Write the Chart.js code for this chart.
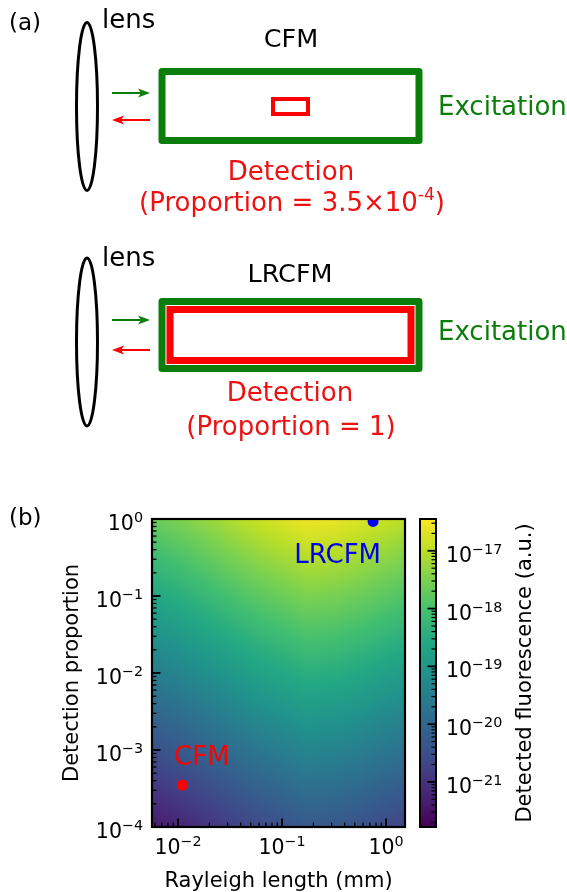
<!DOCTYPE html>
<html>
<head>
<meta charset="utf-8">
<script src="https://cdn.jsdelivr.net/npm/chart.js@4.4.1/dist/chart.umd.min.js"></script>
<style>
html, body { margin: 0; padding: 0; background: #fff; }
#wrap { position: relative; width: 567px; height: 892px; overflow: hidden; }
#fig { position: absolute; left: 0; top: 0; }
#sketch { position: absolute; left: 0; top: 0; pointer-events: none; font-family: 'DejaVu Sans', sans-serif; }
</style>
</head>
<body>
<div id="wrap">
<canvas id="fig" width="567" height="892"></canvas>
<svg id="sketch" width="567" height="892">
  <text x="9" y="30" font-size="23">(a)</text>
  <text x="9" y="525" font-size="23">(b)</text>

  <!-- CFM sketch -->
  <ellipse cx="87" cy="106.5" rx="10.5" ry="84" fill="none" stroke="#000" stroke-width="3"/>
  <text x="102" y="28" font-size="26">lens</text>
  <text x="291" y="47" font-size="25.5" text-anchor="middle">CFM</text>
  <rect x="162" y="71.5" width="257" height="69" fill="none" stroke="#0b7d0b" stroke-width="7" stroke-linejoin="round"/>
  <rect x="273" y="99" width="35" height="15" fill="none" stroke="#ff0000" stroke-width="4"/>
  <line x1="112" y1="93" x2="142" y2="93" stroke="#0b7d0b" stroke-width="2"/>
  <polygon points="150,93 138,88.5 141,93 138,97.5" fill="#0b7d0b"/>
  <line x1="120" y1="120" x2="150" y2="120" stroke="#ff0000" stroke-width="2"/>
  <polygon points="112,120 124,115.5 121,120 124,124.5" fill="#ff0000"/>
  <text x="438" y="115" font-size="26" fill="#0b7d0b">Excitation</text>
  <text x="291" y="180" font-size="26" fill="#ee1111" text-anchor="middle">Detection</text>
  <text x="292" y="211" font-size="26" fill="#ee1111" text-anchor="middle">(Proportion = 3.5×10<tspan dy="-11" font-size="17">-4</tspan><tspan dy="11">)</tspan></text>

  <!-- LRCFM sketch -->
  <ellipse cx="87" cy="342" rx="10.5" ry="84" fill="none" stroke="#000" stroke-width="3"/>
  <text x="102" y="266" font-size="26">lens</text>
  <text x="290" y="282" font-size="25.5" text-anchor="middle">LRCFM</text>
  <rect x="162" y="301.5" width="257" height="67" fill="none" stroke="#0b7d0b" stroke-width="7" stroke-linejoin="round"/>
  <rect x="170" y="309.5" width="241" height="51" fill="none" stroke="#ff0000" stroke-width="7"/>
  <line x1="112" y1="320" x2="142" y2="320" stroke="#0b7d0b" stroke-width="2"/>
  <polygon points="150,320 138,315.5 141,320 138,324.5" fill="#0b7d0b"/>
  <line x1="120" y1="350" x2="150" y2="350" stroke="#ff0000" stroke-width="2"/>
  <polygon points="112,350 124,345.5 121,350 124,354.5" fill="#ff0000"/>
  <text x="438" y="340" font-size="26" fill="#0b7d0b">Excitation</text>
  <text x="290" y="401" font-size="26" fill="#ee1111" text-anchor="middle">Detection</text>
  <text x="291" y="435" font-size="26" fill="#ee1111" text-anchor="middle">(Proportion = 1)</text>
</svg>
</div>
<script>
// Panel (b): detected fluorescence vs Rayleigh length and detection proportion.

// Grid of the heat map
const rayleighLength = [0.005623, 0.01, 0.0178, 0.0316, 0.0562, 0.1, 0.178, 0.316, 0.562, 1.0, 1.52];
const detectionProportion = [1, 0.1, 0.01, 0.001, 0.0001];
// log10 of detected fluorescence (a.u.), one row per detection proportion
const fluorescenceLog10 = [
    [-17.68, -17.52, -17.31, -17.10, -16.89, -16.73, -16.57, -16.62, -16.73, -16.89, -16.99],
    [-18.61, -18.45, -18.24, -18.03, -17.82, -17.66, -17.50, -17.55, -17.66, -17.82, -17.92],
    [-19.54, -19.38, -19.17, -18.96, -18.75, -18.59, -18.43, -18.48, -18.59, -18.75, -18.85],
    [-20.47, -20.31, -20.10, -19.89, -19.68, -19.52, -19.36, -19.41, -19.52, -19.68, -19.78],
    [-21.40, -21.24, -21.03, -20.82, -20.61, -20.45, -20.29, -20.34, -20.45, -20.61, -20.71]
];
const colorMin = Math.pow(10, -21.78);
const colorMax = Math.pow(10, -16.45);

// The two microscopes
const pointNames = ['CFM', 'LRCFM'];
const pointRayleigh = [0.011, 0.75];
const pointProportion = [3.5e-4, 0.93];
const labelRayleigh = [0.00916, 0.131];
const labelProportion = [6.4e-4, 0.268];

// Axis ticks
const xTickValues = [0.01, 0.1, 1];
const xTickExp = ['\u22122', '\u22121', '0'];
const yTickValues = [1, 0.1, 0.01, 0.001, 0.0001];
const yTickExp = ['0', '\u22121', '\u22122', '\u22123', '\u22124'];
const cbarTickValues = [1e-17, 1e-18, 1e-19, 1e-20, 1e-21];
const cbarTickExp = ['\u221217', '\u221218', '\u221219', '\u221220', '\u221221'];

const xTitle = 'Rayleigh length (mm)';
const yTitle = 'Detection proportion';
const cbarTitle = 'Detected fluorescence (a.u.)';

const markerColors = ['#ff0000', '#0000ff'];
const FONT = '"DejaVu Sans", sans-serif';
const TICK_PX = 20.5, SUP_PX = 14.3;

const viridis = [
    [68, 1, 84], [72, 36, 117], [65, 68, 135], [53, 95, 141], [42, 120, 142],
    [33, 145, 140], [34, 168, 132], [68, 191, 112], [122, 209, 81], [189, 223, 38], [253, 231, 37]
];

function viridisColor(t) {
    t = Math.max(0, Math.min(1, t));
    const f = t * (viridis.length - 1);
    const k = Math.min(viridis.length - 2, Math.floor(f));
    const r = f - k;
    const a = viridis[k], b = viridis[k + 1];
    return [a[0] + (b[0] - a[0]) * r, a[1] + (b[1] - a[1]) * r, a[2] + (b[2] - a[2]) * r];
}

// fractional position of v inside a monotonic grid
function gridPos(grid, v) {
    const n = grid.length;
    for (let k = 0; k < n - 1; k++) {
        const a = grid[k], b = grid[k + 1];
        if ((v - a) * (v - b) <= 0) return k + (v - a) / (b - a);
    }
    return Math.abs(v - grid[0]) < Math.abs(v - grid[n - 1]) ? 0 : n - 1;
}

function sampleGrid(fx, fy) {
    const cols = rayleighLength.length, rows = detectionProportion.length;
    const i0 = Math.min(cols - 2, Math.floor(fx)), j0 = Math.min(rows - 2, Math.floor(fy));
    const u = fx - i0, w = fy - j0;
    const g = fluorescenceLog10;
    return (g[j0][i0] * (1 - u) + g[j0][i0 + 1] * u) * (1 - w) +
           (g[j0 + 1][i0] * (1 - u) + g[j0 + 1][i0 + 1] * u) * w;
}

const heatmapPlugin = {
    id: 'heatmap',
    beforeDatasetsDraw(chart) {
        const { ctx, chartArea } = chart;
        const xs = chart.scales.x, ys = chart.scales.y, cs = chart.scales.c;
        const lx = rayleighLength.map(Math.log10);
        const ly = detectionProportion.map(Math.log10);
        const cMin = Math.log10(cs.min), cMax = Math.log10(cs.max);

        const w = Math.round(chartArea.right - chartArea.left);
        const h = Math.round(chartArea.bottom - chartArea.top);
        const off = document.createElement('canvas');
        off.width = w; off.height = h;
        const octx = off.getContext('2d');
        const img = octx.createImageData(w, h);
        for (let i = 0; i < w; i++) {
            const fx = gridPos(lx, Math.log10(xs.getValueForPixel(chartArea.left + i + 0.5)));
            for (let j = 0; j < h; j++) {
                const fy = gridPos(ly, Math.log10(ys.getValueForPixel(chartArea.top + j + 0.5)));
                const c = viridisColor((sampleGrid(fx, fy) - cMin) / (cMax - cMin));
                const p = (j * w + i) * 4;
                img.data[p] = c[0]; img.data[p + 1] = c[1]; img.data[p + 2] = c[2]; img.data[p + 3] = 255;
            }
        }
        octx.putImageData(img, 0, 0);
        ctx.drawImage(off, chartArea.left, chartArea.top);

        // colour bar
        const barLeft = 420, barWidth = 16;
        for (let y = Math.floor(cs.top); y < Math.ceil(cs.bottom); y++) {
            const v = Math.log10(cs.getValueForPixel(y + 0.5));
            const c = viridisColor((v - cMin) / (cMax - cMin));
            ctx.fillStyle = `rgb(${c[0] | 0},${c[1] | 0},${c[2] | 0})`;
            ctx.fillRect(barLeft, y, barWidth, 1);
        }
    }
};

function minorTicks(min, max) {
    const out = [];
    for (let e = Math.floor(Math.log10(min)); e <= Math.ceil(Math.log10(max)); e++) {
        for (let m = 2; m <= 9; m++) {
            const v = m * Math.pow(10, e);
            if (v > min && v < max) out.push(v);
        }
    }
    return out;
}

function drawPower(ctx, x, baseline, exp, align) {
    ctx.font = TICK_PX + 'px ' + FONT;
    const wb = ctx.measureText('10').width;
    ctx.font = SUP_PX + 'px ' + FONT;
    const ws = ctx.measureText(exp).width;
    const total = wb + ws;
    let start = x;
    if (align === 'right') start = x - total;
    if (align === 'center') start = x - total / 2;
    ctx.textAlign = 'left';
    ctx.textBaseline = 'alphabetic';
    ctx.font = TICK_PX + 'px ' + FONT;
    ctx.fillText('10', start, baseline);
    ctx.font = SUP_PX + 'px ' + FONT;
    ctx.fillText(exp, start + wb, baseline - 8);
}

const axesPlugin = {
    id: 'axesDecor',
    afterDatasetsDraw(chart) {
        const { ctx, chartArea } = chart;
        const xs = chart.scales.x, ys = chart.scales.y, cs = chart.scales.c;
        const { left, right, top, bottom } = chartArea;
        ctx.save();
        ctx.fillStyle = '#000';
        ctx.strokeStyle = '#000';

        // inward ticks, left and bottom
        const tick = (x1, y1, x2, y2, lw) => {
            ctx.lineWidth = lw;
            ctx.beginPath(); ctx.moveTo(x1, y1); ctx.lineTo(x2, y2); ctx.stroke();
        };
        minorTicks(xs.min, xs.max).forEach(v => {
            const px = xs.getPixelForValue(v);
            tick(px, bottom, px, bottom - 4.5, 1.3);
        });
        xTickValues.forEach(v => {
            const px = xs.getPixelForValue(v);
            tick(px, bottom, px, bottom - 8.5, 1.8);
        });
        minorTicks(ys.min, ys.max).forEach(v => {
            const py = ys.getPixelForValue(v);
            tick(left, py, left + 4.5, py, 1.3);
        });
        yTickValues.forEach(v => {
            const py = ys.getPixelForValue(v);
            tick(left, py, left + 8.5, py, 1.8);
        });

        // frame
        ctx.lineWidth = 2.2;
        ctx.strokeRect(left, top, right - left, bottom - top);

        // tick labels
        xTickValues.forEach((v, i) => drawPower(ctx, xs.getPixelForValue(v), bottom + 27, xTickExp[i], 'center'));
        yTickValues.forEach((v, i) => drawPower(ctx, left - 9, ys.getPixelForValue(v) + 11, yTickExp[i], 'right'));

        // axis titles
        ctx.font = '21px ' + FONT;
        ctx.textAlign = 'center';
        ctx.textBaseline = 'alphabetic';
        ctx.fillText(xTitle, (left + right) / 2, 887);
        ctx.save();
        ctx.translate(78, (top + bottom) / 2);
        ctx.rotate(-Math.PI / 2);
        ctx.fillText(yTitle, 0, 0);
        ctx.restore();

        // point labels
        ctx.font = '26px ' + FONT;
        ctx.textAlign = 'left';
        pointNames.forEach((name, i) => {
            ctx.fillStyle = i === 0 ? '#ff0000' : '#0000e6';
            ctx.fillText(name, xs.getPixelForValue(labelRayleigh[i]), ys.getPixelForValue(labelProportion[i]));
        });

        // colour bar ticks, frame and labels
        ctx.fillStyle = '#000';
        const barLeft = 420, barRight = 436;
        minorTicks(cs.min, cs.max).forEach(v => {
            const py = cs.getPixelForValue(v);
            tick(barRight, py, barRight - 4.5, py, 1.2);
        });
        cbarTickValues.forEach((v, i) => {
            const py = cs.getPixelForValue(v);
            tick(barRight, py, barRight - 8.5, py, 1.8);
            drawPower(ctx, 446, py + 11, cbarTickExp[i], 'left');
        });
        ctx.lineWidth = 2;
        ctx.strokeRect(barLeft, cs.top, barRight - barLeft, cs.bottom - cs.top);

        ctx.font = '21px ' + FONT;
        ctx.textAlign = 'center';
        ctx.save();
        ctx.translate(531, (cs.top + cs.bottom) / 2);
        ctx.rotate(-Math.PI / 2);
        ctx.fillText(cbarTitle, 0, 0);
        ctx.restore();

        ctx.restore();
    }
};

new Chart(document.getElementById('fig'), {
    type: 'scatter',
    data: {
        datasets: pointNames.map((name, i) => ({
            label: name,
            data: [{ x: pointRayleigh[i], y: pointProportion[i] }],
            pointRadius: 5.5,
            pointHoverRadius: 5.5,
            backgroundColor: markerColors[i],
            borderWidth: 0
        }))
    },
    options: {
        responsive: false,
        animation: false,
        devicePixelRatio: 1,
        layout: { padding: { left: 152, top: 519, right: 162, bottom: 65 } },
        plugins: { legend: { display: false }, tooltip: { enabled: false } },
        scales: {
            x: { type: 'logarithmic', min: rayleighLength[0], max: rayleighLength[rayleighLength.length - 1], bounds: 'data', display: false },
            y: { type: 'logarithmic', min: 1e-4, max: 1, bounds: 'data', display: false },
            c: { type: 'logarithmic', axis: 'y', position: 'right', min: colorMin, max: colorMax, bounds: 'data', display: false }
        }
    },
    plugins: [heatmapPlugin, axesPlugin]
});
</script>
</body>
</html>
